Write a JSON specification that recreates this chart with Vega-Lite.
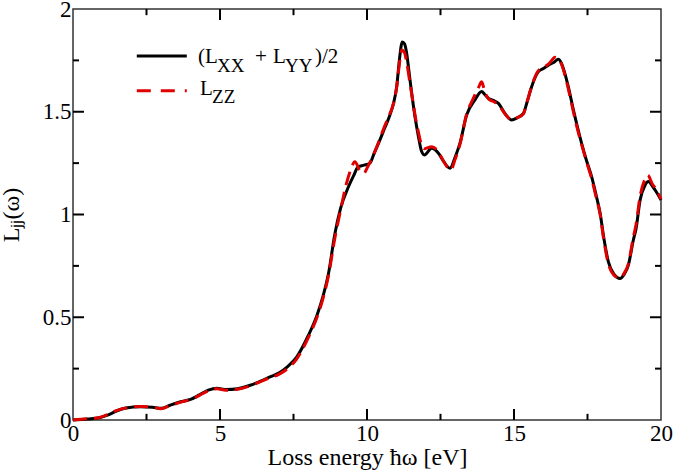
{
  "$schema": "https://vega.github.io/schema/vega-lite/v6.json",
  "width": 588,
  "height": 411,
  "autosize": {"type": "none"},
  "padding": {"left": 73, "top": 9, "right": 14, "bottom": 55},
  "background": "white",
  "config": {
    "view": {"stroke": "#333", "strokeWidth": 1.5},
    "axis": {
      "grid": false,
      "domain": false,
      "ticks": false,
      "labelFont": "Liberation Serif",
      "labelFontSize": 23,
      "labelColor": "#000",
      "titleFont": "Liberation Serif",
      "titleFontSize": 24,
      "titleFontWeight": "normal",
      "titleColor": "#000"
    }
  },
  "datasets": {
    "black": [
      {"E": 0.0, "L": 0.0}, {"E": 0.5, "L": 0.005}, {"E": 0.9, "L": 0.011}, {"E": 1.2, "L": 0.025},
      {"E": 1.5, "L": 0.045}, {"E": 1.8, "L": 0.058}, {"E": 2.3, "L": 0.065}, {"E": 2.7, "L": 0.062},
      {"E": 3.0, "L": 0.057}, {"E": 3.3, "L": 0.072}, {"E": 3.7, "L": 0.09}, {"E": 4.0, "L": 0.1},
      {"E": 4.3, "L": 0.122}, {"E": 4.6, "L": 0.145}, {"E": 4.9, "L": 0.155}, {"E": 5.2, "L": 0.148},
      {"E": 5.6, "L": 0.152}, {"E": 6.0, "L": 0.168}, {"E": 6.4, "L": 0.19}, {"E": 6.7, "L": 0.21},
      {"E": 7.0, "L": 0.228}, {"E": 7.3, "L": 0.26}, {"E": 7.6, "L": 0.305}, {"E": 8.0, "L": 0.41},
      {"E": 8.3, "L": 0.51}, {"E": 8.5, "L": 0.6}, {"E": 8.7, "L": 0.72}, {"E": 8.9, "L": 0.9},
      {"E": 9.1, "L": 1.03}, {"E": 9.37, "L": 1.135}, {"E": 9.55, "L": 1.19}, {"E": 9.7, "L": 1.233},
      {"E": 9.9, "L": 1.24}, {"E": 10.1, "L": 1.25}, {"E": 10.25, "L": 1.3}, {"E": 10.39, "L": 1.346},
      {"E": 10.6, "L": 1.42}, {"E": 10.78, "L": 1.484}, {"E": 10.9, "L": 1.54}, {"E": 11.01, "L": 1.622},
      {"E": 11.1, "L": 1.75}, {"E": 11.2, "L": 1.84}, {"E": 11.28, "L": 1.83}, {"E": 11.35, "L": 1.784},
      {"E": 11.45, "L": 1.67}, {"E": 11.52, "L": 1.59}, {"E": 11.65, "L": 1.46}, {"E": 11.75, "L": 1.379},
      {"E": 11.85, "L": 1.31}, {"E": 11.95, "L": 1.29}, {"E": 12.2, "L": 1.322}, {"E": 12.43, "L": 1.298},
      {"E": 12.6, "L": 1.26}, {"E": 12.82, "L": 1.225}, {"E": 13.0, "L": 1.28}, {"E": 13.16, "L": 1.346},
      {"E": 13.39, "L": 1.484}, {"E": 13.67, "L": 1.557}, {"E": 13.9, "L": 1.598}, {"E": 14.0, "L": 1.585},
      {"E": 14.13, "L": 1.565}, {"E": 14.3, "L": 1.555}, {"E": 14.47, "L": 1.541}, {"E": 14.69, "L": 1.492},
      {"E": 14.92, "L": 1.46}, {"E": 15.1, "L": 1.47}, {"E": 15.32, "L": 1.492}, {"E": 15.45, "L": 1.55},
      {"E": 15.6, "L": 1.622}, {"E": 15.83, "L": 1.695}, {"E": 16.0, "L": 1.71}, {"E": 16.17, "L": 1.727},
      {"E": 16.35, "L": 1.74}, {"E": 16.51, "L": 1.755}, {"E": 16.6, "L": 1.74}, {"E": 16.73, "L": 1.687},
      {"E": 16.85, "L": 1.62}, {"E": 17.02, "L": 1.509}, {"E": 17.15, "L": 1.43}, {"E": 17.3, "L": 1.346},
      {"E": 17.45, "L": 1.27}, {"E": 17.64, "L": 1.184}, {"E": 17.8, "L": 1.09}, {"E": 17.93, "L": 1.006},
      {"E": 18.05, "L": 0.89}, {"E": 18.21, "L": 0.77}, {"E": 18.4, "L": 0.71}, {"E": 18.61, "L": 0.689},
      {"E": 18.75, "L": 0.71}, {"E": 18.89, "L": 0.754}, {"E": 19.06, "L": 0.876}, {"E": 19.15, "L": 0.93},
      {"E": 19.29, "L": 1.071}, {"E": 19.45, "L": 1.14}, {"E": 19.57, "L": 1.16}, {"E": 19.7, "L": 1.14},
      {"E": 19.8, "L": 1.119}, {"E": 20.0, "L": 1.071}
    ],
    "red": [
      {"E": 0.0, "L": 0.0}, {"E": 0.5, "L": 0.006}, {"E": 0.9, "L": 0.012}, {"E": 1.2, "L": 0.028},
      {"E": 1.5, "L": 0.047}, {"E": 1.8, "L": 0.058}, {"E": 2.3, "L": 0.066}, {"E": 2.7, "L": 0.063},
      {"E": 3.0, "L": 0.055}, {"E": 3.3, "L": 0.07}, {"E": 3.7, "L": 0.088}, {"E": 4.0, "L": 0.1},
      {"E": 4.3, "L": 0.12}, {"E": 4.6, "L": 0.142}, {"E": 4.9, "L": 0.152}, {"E": 5.2, "L": 0.145},
      {"E": 5.6, "L": 0.15}, {"E": 6.0, "L": 0.165}, {"E": 6.4, "L": 0.188}, {"E": 6.7, "L": 0.205},
      {"E": 7.0, "L": 0.222}, {"E": 7.3, "L": 0.25}, {"E": 7.6, "L": 0.295}, {"E": 8.0, "L": 0.4},
      {"E": 8.3, "L": 0.5}, {"E": 8.5, "L": 0.59}, {"E": 8.7, "L": 0.71}, {"E": 8.9, "L": 0.88},
      {"E": 9.1, "L": 1.02}, {"E": 9.3, "L": 1.15}, {"E": 9.45, "L": 1.22}, {"E": 9.59, "L": 1.257},
      {"E": 9.75, "L": 1.215}, {"E": 9.88, "L": 1.2}, {"E": 10.05, "L": 1.24}, {"E": 10.25, "L": 1.3},
      {"E": 10.39, "L": 1.35}, {"E": 10.6, "L": 1.43}, {"E": 10.78, "L": 1.49}, {"E": 10.9, "L": 1.54},
      {"E": 11.01, "L": 1.62}, {"E": 11.1, "L": 1.73}, {"E": 11.18, "L": 1.8}, {"E": 11.27, "L": 1.79},
      {"E": 11.35, "L": 1.74}, {"E": 11.45, "L": 1.65}, {"E": 11.55, "L": 1.56}, {"E": 11.65, "L": 1.47},
      {"E": 11.75, "L": 1.4}, {"E": 11.85, "L": 1.34}, {"E": 11.95, "L": 1.32}, {"E": 12.2, "L": 1.33},
      {"E": 12.45, "L": 1.3}, {"E": 12.6, "L": 1.26}, {"E": 12.85, "L": 1.217}, {"E": 13.0, "L": 1.27},
      {"E": 13.16, "L": 1.34}, {"E": 13.39, "L": 1.49}, {"E": 13.6, "L": 1.56}, {"E": 13.8, "L": 1.62},
      {"E": 13.9, "L": 1.646}, {"E": 14.0, "L": 1.6}, {"E": 14.15, "L": 1.56}, {"E": 14.3, "L": 1.55},
      {"E": 14.47, "L": 1.535}, {"E": 14.69, "L": 1.49}, {"E": 14.92, "L": 1.46}, {"E": 15.1, "L": 1.47},
      {"E": 15.32, "L": 1.49}, {"E": 15.45, "L": 1.55}, {"E": 15.6, "L": 1.625}, {"E": 15.83, "L": 1.7},
      {"E": 16.0, "L": 1.715}, {"E": 16.2, "L": 1.735}, {"E": 16.4, "L": 1.765}, {"E": 16.55, "L": 1.75},
      {"E": 16.73, "L": 1.68}, {"E": 16.85, "L": 1.61}, {"E": 17.02, "L": 1.5}, {"E": 17.15, "L": 1.42},
      {"E": 17.3, "L": 1.34}, {"E": 17.45, "L": 1.265}, {"E": 17.64, "L": 1.175}, {"E": 17.8, "L": 1.08},
      {"E": 17.93, "L": 1.0}, {"E": 18.05, "L": 0.88}, {"E": 18.21, "L": 0.76}, {"E": 18.4, "L": 0.705},
      {"E": 18.6, "L": 0.69}, {"E": 18.75, "L": 0.715}, {"E": 18.89, "L": 0.76}, {"E": 19.06, "L": 0.89},
      {"E": 19.15, "L": 0.95}, {"E": 19.29, "L": 1.09}, {"E": 19.45, "L": 1.17}, {"E": 19.55, "L": 1.192},
      {"E": 19.7, "L": 1.15}, {"E": 19.8, "L": 1.13}, {"E": 20.0, "L": 1.075}
    ],
    "xmaj": [{"v": 5}, {"v": 10}, {"v": 15}],
    "xmin": [{"v": 2.5}, {"v": 7.5}, {"v": 12.5}, {"v": 17.5}],
    "ymaj": [{"v": 0.5}, {"v": 1}, {"v": 1.5}],
    "ymin": [{"v": 0.25}, {"v": 0.75}, {"v": 1.25}, {"v": 1.75}],
    "legendMain": [
      {"t": "(L", "x": 4.25, "y": 1.736},
      {"t": "+", "x": 6.19, "y": 1.736},
      {"t": "L", "x": 6.8, "y": 1.736},
      {"t": ")/2", "x": 8.23, "y": 1.736},
      {"t": "L", "x": 4.32, "y": 1.582}
    ],
    "legendSub": [
      {"t": "XX", "x": 4.9, "y": 1.695},
      {"t": "YY", "x": 7.21, "y": 1.695},
      {"t": "ZZ", "x": 4.73, "y": 1.543}
    ]
  },
  "layer": [
    {
      "data": {"name": "black"},
      "mark": {"type": "line", "color": "#000", "strokeWidth": 3, "interpolate": "monotone"},
      "encoding": {
        "x": {
          "field": "E", "type": "quantitative",
          "scale": {"domain": [0, 20], "nice": false, "zero": false},
          "axis": {
            "orient": "bottom",
            "title": "Loss energy ħω [eV]",
            "values": [0, 5, 10, 15, 20],
            "labelPadding": 2,
            "labelFlush": false,
            "labelOverlap": false,
            "titlePadding": 0
          }
        },
        "y": {
          "field": "L", "type": "quantitative",
          "scale": {"domain": [0, 2], "nice": false, "zero": false},
          "axis": {
            "orient": "left",
            "title": "Lⱼⱼ(ω)",
            "values": [0, 0.5, 1, 1.5, 2],
            "labelExpr": "'' + datum.value",
            "labelPadding": 2,
            "labelFlush": false,
            "labelOverlap": false,
            "titlePadding": 19
          }
        }
      }
    },
    {
      "data": {"name": "red"},
      "mark": {"type": "line", "color": "#e00000", "strokeWidth": 3, "strokeDash": [14, 7], "interpolate": "monotone"},
      "encoding": {
        "x": {"field": "E", "type": "quantitative"},
        "y": {"field": "L", "type": "quantitative"}
      }
    },
    {
      "data": {"values": [{}]},
      "mark": {"type": "rule", "color": "#000", "strokeWidth": 3},
      "encoding": {
        "x": {"datum": 2.17, "type": "quantitative"},
        "x2": {"datum": 3.87},
        "y": {"datum": 1.771, "type": "quantitative"}
      }
    },
    {
      "data": {"values": [{}]},
      "mark": {"type": "rule", "color": "#e00000", "strokeWidth": 3, "strokeDash": [14, 10]},
      "encoding": {
        "x": {"datum": 2.17, "type": "quantitative"},
        "x2": {"datum": 3.87},
        "y": {"datum": 1.602, "type": "quantitative"}
      }
    },
    {
      "data": {"name": "legendMain"},
      "mark": {"type": "text", "font": "Liberation Serif", "fontSize": 21, "align": "left", "baseline": "alphabetic", "color": "#000"},
      "encoding": {
        "x": {"field": "x", "type": "quantitative"},
        "y": {"field": "y", "type": "quantitative"},
        "text": {"field": "t"}
      }
    },
    {
      "data": {"name": "legendSub"},
      "mark": {"type": "text", "font": "Liberation Serif", "fontSize": 19, "align": "left", "baseline": "alphabetic", "color": "#000"},
      "encoding": {
        "x": {"field": "x", "type": "quantitative"},
        "y": {"field": "y", "type": "quantitative"},
        "text": {"field": "t"}
      }
    },
    {
      "data": {"name": "xmaj"},
      "mark": {"type": "rule", "color": "#000", "strokeWidth": 2},
      "encoding": {"x": {"field": "v", "type": "quantitative"}, "y": {"datum": 0, "type": "quantitative"}, "y2": {"datum": 0.0535}}
    },
    {
      "data": {"name": "xmin"},
      "mark": {"type": "rule", "color": "#000", "strokeWidth": 2},
      "encoding": {"x": {"field": "v", "type": "quantitative"}, "y": {"datum": 0, "type": "quantitative"}, "y2": {"datum": 0.03}}
    },
    {
      "data": {"name": "xmaj"},
      "mark": {"type": "rule", "color": "#000", "strokeWidth": 2},
      "encoding": {"x": {"field": "v", "type": "quantitative"}, "y": {"datum": 2, "type": "quantitative"}, "y2": {"datum": 1.9465}}
    },
    {
      "data": {"name": "xmin"},
      "mark": {"type": "rule", "color": "#000", "strokeWidth": 2},
      "encoding": {"x": {"field": "v", "type": "quantitative"}, "y": {"datum": 2, "type": "quantitative"}, "y2": {"datum": 1.97}}
    },
    {
      "data": {"name": "ymaj"},
      "mark": {"type": "rule", "color": "#000", "strokeWidth": 2},
      "encoding": {"y": {"field": "v", "type": "quantitative"}, "x": {"datum": 0, "type": "quantitative"}, "x2": {"datum": 0.374}}
    },
    {
      "data": {"name": "ymin"},
      "mark": {"type": "rule", "color": "#000", "strokeWidth": 2},
      "encoding": {"y": {"field": "v", "type": "quantitative"}, "x": {"datum": 0, "type": "quantitative"}, "x2": {"datum": 0.204}}
    },
    {
      "data": {"name": "ymaj"},
      "mark": {"type": "rule", "color": "#000", "strokeWidth": 2},
      "encoding": {"y": {"field": "v", "type": "quantitative"}, "x": {"datum": 20, "type": "quantitative"}, "x2": {"datum": 19.626}}
    },
    {
      "data": {"name": "ymin"},
      "mark": {"type": "rule", "color": "#000", "strokeWidth": 2},
      "encoding": {"y": {"field": "v", "type": "quantitative"}, "x": {"datum": 20, "type": "quantitative"}, "x2": {"datum": 19.796}}
    }
  ]
}
